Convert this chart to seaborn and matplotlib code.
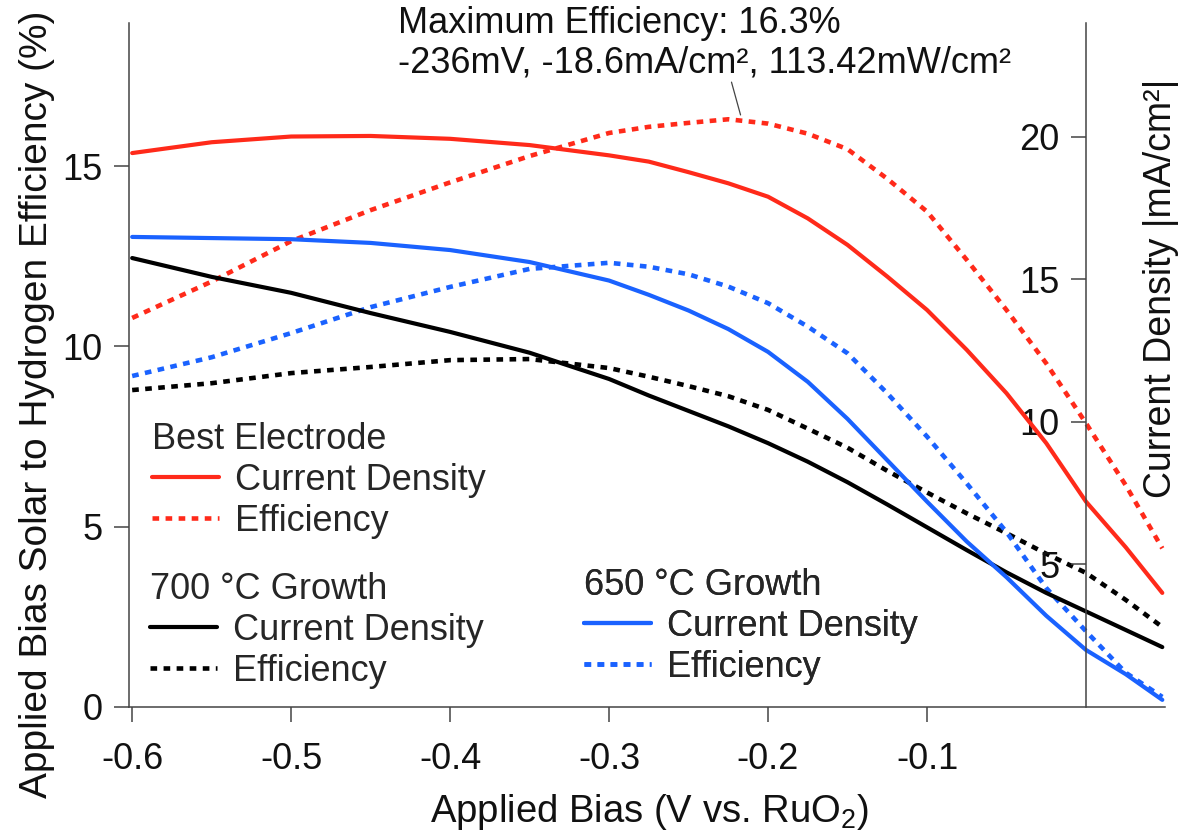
import pandas as pd
import seaborn as sns
import matplotlib.pyplot as plt
from matplotlib.lines import Line2D

# Applied bias (V vs. RuO2), shared by all curves
bias = [-0.6, -0.55, -0.5, -0.45, -0.4, -0.35, -0.3, -0.275, -0.25, -0.225, -0.2,
        -0.175, -0.15, -0.125, -0.1, -0.075, -0.05, -0.025, 0.0, 0.025, 0.048]

# Best electrode: |current density| (mA/cm2) and ABPE efficiency (%)
best_j = [19.42, 19.8, 20.0, 20.02, 19.92, 19.7, 19.34, 19.12, 18.75, 18.36, 17.89,
          17.13, 16.2, 15.09, 13.92, 12.52, 11.0, 9.25, 7.2, 5.6, 4.0]
best_eff = [10.79, 11.8, 12.92, 13.78, 14.55, 15.28, 15.92, 16.09, 16.2, 16.3, 16.18,
            15.9, 15.47, 14.65, 13.74, 12.4, 11.01, 9.53, 7.87, 6.15, 4.4]

# 700 C growth
g700_j = [15.74, 15.08, 14.52, 13.81, 13.15, 12.42, 11.5, 10.92, 10.38, 9.84, 9.25,
          8.6, 7.88, 7.1, 6.3, 5.5, 4.72, 4.0, 3.35, 2.7, 2.1]
g700_eff = [8.79, 8.98, 9.26, 9.43, 9.62, 9.65, 9.4, 9.16, 8.9, 8.62, 8.24,
            7.72, 7.19, 6.55, 5.95, 5.37, 4.82, 4.25, 3.72, 2.97, 2.22]

# 650 C growth
g650_j = [16.48, 16.44, 16.4, 16.27, 16.02, 15.6, 14.95, 14.45, 13.9, 13.25, 12.45,
          11.4, 10.1, 8.65, 7.2, 5.8, 4.55, 3.2, 2.0, 1.15, 0.25]
g650_eff = [9.18, 9.7, 10.37, 11.09, 11.65, 12.15, 12.32, 12.21, 12.0, 11.66, 11.2,
            10.55, 9.81, 8.7, 7.5, 6.2, 4.85, 3.3, 2.1, 0.95, 0.28]

x_ticks = [-0.6, -0.5, -0.4, -0.3, -0.2, -0.1]
x_ticklabels = ["-0.6", "-0.5", "-0.4", "-0.3", "-0.2", "-0.1"]
eff_ticks = [0, 5, 10, 15]
j_ticks = [5, 10, 15, 20]

df = pd.DataFrame({
    "bias": bias,
    "best_j": best_j, "best_eff": best_eff,
    "g700_j": g700_j, "g700_eff": g700_eff,
    "g650_j": g650_j, "g650_eff": g650_eff,
})

sns.set_theme(style="ticks")
plt.rcParams["font.family"] = ["Liberation Sans", "DejaVu Sans"]
plt.rcParams["mathtext.fontset"] = "custom"
plt.rcParams["mathtext.rm"] = "Liberation Sans"
plt.rcParams["axes.unicode_minus"] = False

red = "#ff2a1a"
blue = "#1a62ff"
black = "#000000"
axis_col = "#444444"
dot = (0, (1.45, 1.4))

fig = plt.figure(figsize=(11.88, 8.33), dpi=100)
ax = fig.add_axes([129 / 1188, 1 - 707 / 833, 1036 / 1188, 684 / 833])
ax2 = ax.twinx()

groups = [("best", red), ("g700", black), ("g650", blue)]
for key, color in groups:
    sns.lineplot(data=df, x="bias", y=key + "_eff", ax=ax, color=color,
                 linestyle=dot, lw=3.3)
    sns.lineplot(data=df, x="bias", y=key + "_j", ax=ax2, color=color, lw=3)

# left axis: efficiency
ax.set_xlim(-0.602, 0.0497)
ax.set_ylim(0, 18.97)
ax.set_xticks(x_ticks)
ax.set_xticklabels(x_ticklabels)
ax.set_yticks(eff_ticks)
for s in ["top", "right"]:
    ax.spines[s].set_visible(False)
for s in ["left", "bottom"]:
    ax.spines[s].set_color(axis_col)
    ax.spines[s].set_linewidth(1.1)
ax.tick_params(axis="both", length=11, width=1.1, color=axis_col,
               labelsize=26, labelcolor="#111111", direction="out")
ax.tick_params(axis="x", pad=14)
ax.tick_params(axis="y", pad=8)
ax.set_xlabel("Applied Bias (V vs. RuO$_2$)", fontsize=27.5, color="#111111")
ax.xaxis.set_label_coords(0.502, -0.125)
ax.set_ylabel("Applied Bias Solar to Hydrogen Efficiency (%)", fontsize=28,
              color="#111111")
ax.yaxis.set_label_coords(-0.071, 0.443)

# right axis: current density, spine sits at 0 V
ax2.set_ylim(0, 23.98)
ax2.yaxis.tick_left()
ax2.set_yticks(j_ticks)
ax2.spines["left"].set_position(("data", 0))
ax2.spines["left"].set_visible(True)
ax2.spines["left"].set_color(axis_col)
ax2.spines["left"].set_linewidth(1.1)
for s in ["right", "top", "bottom"]:
    ax2.spines[s].set_visible(False)
ax2.tick_params(axis="y", length=11, width=1.1, color=axis_col, labelsize=26,
                labelcolor="#111111", direction="out", pad=8)
ax2.set_ylabel("Current Density |mA/cm²|", fontsize=27, color="#111111")
ax2.yaxis.set_label_position("right")
ax2.yaxis.set_label_coords(0.979, 0.6126)

# legends, one per sample
legend_specs = [
    ("Best Electrode", red, (152 / 1188, 1 - 422 / 833)),
    ("700 °C Growth", black, (150 / 1188, 1 - 572 / 833)),
    ("650 °C Growth", blue, (584 / 1188, 1 - 568 / 833)),
]
for title, color, anchor in legend_specs:
    handles = [Line2D([], [], color=color, lw=3),
               Line2D([], [], color=color, lw=3.3, linestyle=dot)]
    leg = ax2.legend(handles, ["Current Density", "Efficiency"], title=title,
                     loc="upper left", bbox_to_anchor=anchor,
                     bbox_transform=fig.transFigure, frameon=False, fontsize=26,
                     title_fontsize=26, alignment="left", borderpad=0,
                     borderaxespad=0, labelspacing=0.16, handlelength=1.85,
                     handletextpad=0.45)
    ax2.add_artist(leg)

# max-efficiency callout
fig.text(398 / 1188, 1 - 6 / 833,
         "Maximum Efficiency: 16.3%\n-236mV, -18.6mA/cm², 113.42mW/cm²",
         ha="left", va="top", fontsize=26, linespacing=1.15, color="#111111")
ax.annotate("", xy=(-0.2173, 16.42), xytext=(-0.2230, 17.33),
            arrowprops=dict(arrowstyle="-", color=axis_col, lw=0.9,
                            shrinkA=0, shrinkB=0))

fig.savefig("out.png", dpi=100)
